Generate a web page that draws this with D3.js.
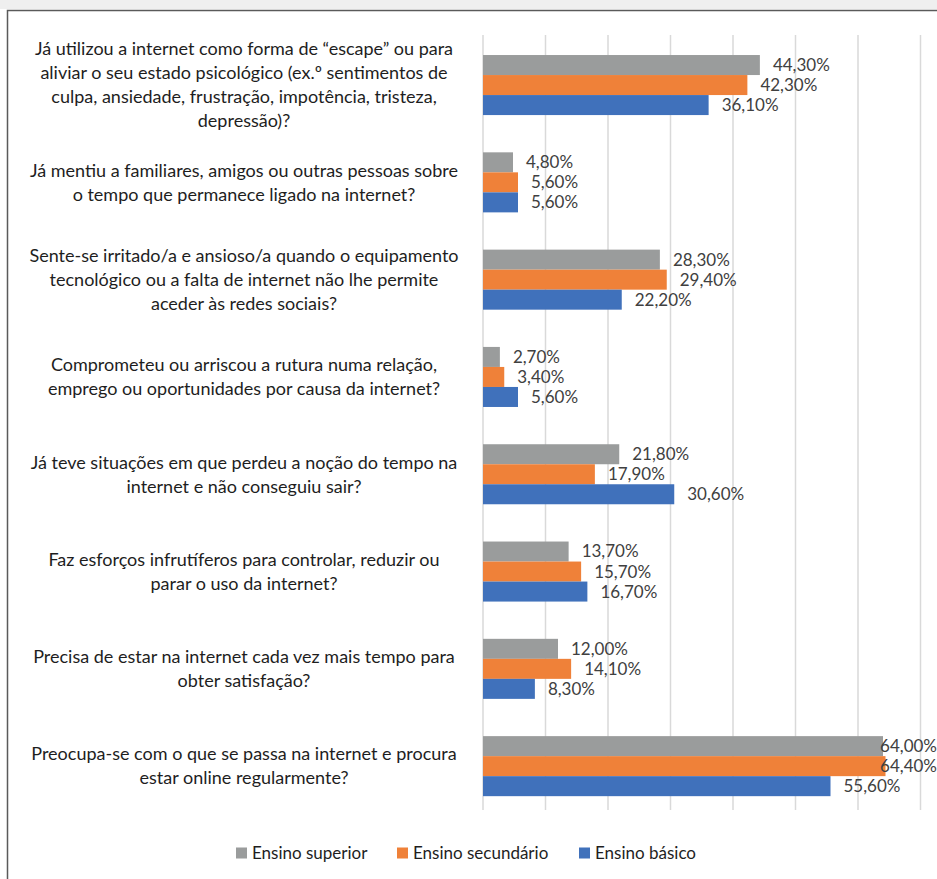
<!DOCTYPE html>
<html><head><meta charset="utf-8">
<script src="https://cdn.jsdelivr.net/npm/d3@7"></script>
<style>
html,body{margin:0;padding:0;background:#fff;}
svg{display:block;}
</style></head>
<body>
<svg id="chart" width="937" height="879"></svg>
<script>
const categories = [
  "Já utilizou a internet como forma de “escape” ou para\naliviar o seu estado psicológico (ex.º sentimentos de\nculpa, ansiedade, frustração, impotência, tristeza,\ndepressão)?",
  "Já mentiu a familiares, amigos ou outras pessoas sobre\no tempo que permanece ligado na internet?",
  "Sente-se irritado/a e ansioso/a quando o equipamento\ntecnológico ou a falta de internet não lhe permite\naceder às redes sociais?",
  "Comprometeu ou arriscou a rutura numa relação,\nemprego ou oportunidades por causa da internet?",
  "Já teve situações em que perdeu a noção do tempo na\ninternet e não conseguiu sair?",
  "Faz esforços infrutíferos para controlar, reduzir ou\nparar o uso da internet?",
  "Precisa de estar na internet cada vez mais tempo para\nobter satisfação?",
  "Preocupa-se com o que se passa na internet e procura\nestar online regularmente?"
];
const seriesNames = ["Ensino superior", "Ensino secundário", "Ensino básico"];
const ensinoSuperior   = [44.3, 4.8, 28.3, 2.7, 21.8, 13.7, 12.0, 64.0];
const ensinoSecundario = [42.3, 5.6, 29.4, 3.4, 17.9, 15.7, 14.1, 64.4];
const ensinoBasico     = [36.1, 5.6, 22.2, 5.6, 30.6, 16.7, 8.3, 55.6];
const gridTicks = [0, 10, 20, 30, 40, 50, 60, 70];
const colors = ["#9a9c9c", "#ef8139", "#4071bb"];

const seriesValues = [ensinoSuperior, ensinoSecundario, ensinoBasico];
const svg = d3.select("#chart");
const FONT = "Lato, 'Open Sans', sans-serif";

// frame
svg.append("rect").attr("x",0).attr("y",0).attr("width",937).attr("height",9).attr("fill","#efefef");
svg.append("rect").attr("x",7.5).attr("y",10.5).attr("width",1000).attr("height",1000)
  .attr("fill","#fff").attr("stroke","#5a5a5a").attr("stroke-width",1.5);

const x = d3.scaleLinear().domain([0,70]).range([483, 920.5]);
const y = d3.scaleBand().domain(d3.range(categories.length)).range([36.4, 814.8])
  .paddingInner(0.383).paddingOuter(0.1915);
const ys = d3.scaleBand().domain(d3.range(3)).range([0, y.bandwidth()]);

// gridlines
svg.append("g").selectAll("line").data(gridTicks).join("line")
  .attr("x1", d=>x(d)).attr("x2", d=>x(d)).attr("y1",35).attr("y2",810)
  .attr("stroke","#d9d9d9").attr("stroke-width",1.5);

// bars
const data = [];
categories.forEach((c,i)=>seriesValues.forEach((vals,s)=>data.push({i,s,v:vals[i]})));
svg.append("g").selectAll("rect").data(data).join("rect")
  .attr("x", x(0))
  .attr("y", d=>y(d.i)+ys(d.s))
  .attr("width", d=>x(d.v)-x(0))
  .attr("height", ys.bandwidth())
  .attr("fill", d=>colors[d.s]);

// value labels
const fmt = v => v.toFixed(2).replace(".", ",") + "%";
const vl = svg.append("g").selectAll("text").data(data).join("text")
  .attr("y", d=>y(d.i)+ys(d.s)+ys.bandwidth()/2)
  .attr("dy","0.35em")
  .attr("font-family",FONT)
  .attr("font-size","17px")
  .attr("fill","#404040")
  .text(d=>fmt(d.v));
vl.each(function(d){
  const w = this.getComputedTextLength();
  let xp = x(d.v) + 13;
  if (xp + w > 937) xp = 937 - w;
  d3.select(this).attr("x", xp);
});

// category labels
const lineH = 24;
const cl = svg.append("g").selectAll("text").data(categories).join("text")
  .attr("text-anchor","middle")
  .attr("font-family",FONT)
  .attr("font-size","18px")
  .attr("fill","#1e1e1e");
cl.each(function(c,i){
  const lines = c.split("\n");
  const cy = y(i) + y.bandwidth()/2;
  const t = d3.select(this);
  lines.forEach((ln,k)=>{
    t.append("tspan").attr("x",244)
      .attr("y", cy + (k-(lines.length-1)/2)*lineH)
      .attr("dy","0.35em").text(ln);
  });
});

// legend
const legX = [236, 397, 579];
const lg = svg.append("g").selectAll("g").data(seriesNames).join("g")
  .attr("transform",(d,i)=>`translate(${legX[i]},853)`);
lg.append("rect").attr("x",0).attr("y",-5.5).attr("width",11).attr("height",11).attr("fill",(d,i)=>colors[i]);
lg.append("text").attr("x",16).attr("dy","0.35em")
  .attr("font-family",FONT).attr("font-size","17px")
  .attr("fill","#1e1e1e").text(d=>d);
</script>
</body></html>
